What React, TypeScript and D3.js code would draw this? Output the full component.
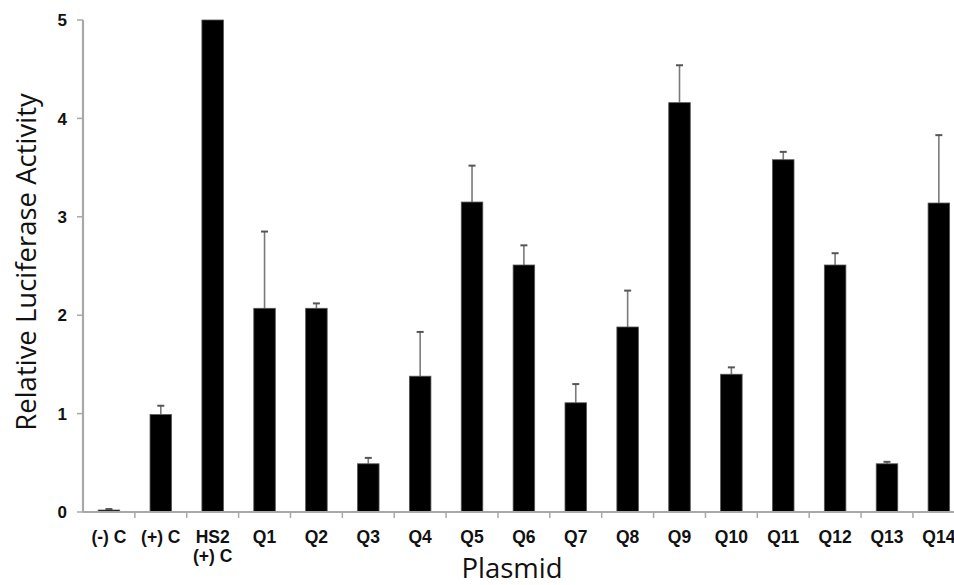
import React from "react";
import * as d3 from "d3";

const categories = ["(-) C", "(+) C", "HS2\n(+) C", "Q1", "Q2", "Q3", "Q4", "Q5", "Q6", "Q7", "Q8", "Q9", "Q10", "Q11", "Q12", "Q13", "Q14"];
const means = [0.02, 0.99, 5.0, 2.07, 2.07, 0.49, 1.38, 3.15, 2.51, 1.11, 1.88, 4.16, 1.40, 3.58, 2.51, 0.49, 3.14];
const errTops = [0.03, 1.08, 5.0, 2.85, 2.12, 0.55, 1.83, 3.52, 2.71, 1.30, 2.25, 4.54, 1.47, 3.66, 2.63, 0.51, 3.83];
const yTicks = [0, 1, 2, 3, 4, 5];

const W = 954;
const H = 585;
const left = 83;
const band = 51.87;
const y0 = 512;
const yTop = 20;

export default function App() {
  const x = d3.scaleBand<string>().domain(categories).range([left, left + band * categories.length]).padding(0);
  const y = d3.scaleLinear().domain([0, 5]).range([y0, yTop]);
  const bw = x.bandwidth() * 0.415;
  const axisColor = "#a8a8a8";
  const tickFont = "'Liberation Sans', Arial, sans-serif";
  const titleFont = "'Open Sans', 'Noto Sans', sans-serif";

  return (
    <svg width={W} height={H} style={{ position: "absolute", left: 0, top: 0, background: "#fff" }}>
      <rect x={0} y={0} width={W} height={H} fill="#fff" />
      {/* bars */}
      {categories.map((c, i) => {
        const cx = (x(c) as number) + x.bandwidth() / 2;
        const top = y(means[i]);
        const et = y(errTops[i]);
        return (
          <g key={c}>
            {errTops[i] > means[i] + 0.005 && (
              <g>
                <line x1={cx} x2={cx} y1={top} y2={et} stroke="#7a7a7a" strokeWidth={1.6} />
                <line x1={cx - 3.5} x2={cx + 3.5} y1={et} y2={et} stroke="#555" strokeWidth={2} />
              </g>
            )}
            <rect x={cx - bw / 2} y={top} width={bw} height={y0 - top} fill="#000" stroke="#555" strokeWidth={0.8} />
          </g>
        );
      })}
      {/* y axis */}
      <line x1={left} x2={left} y1={yTop} y2={y0} stroke={axisColor} strokeWidth={2.2} />
      {yTicks.map((t) => (
        <g key={t}>
          <line x1={left - 6} x2={left} y1={y(t)} y2={y(t)} stroke={axisColor} strokeWidth={1.5} />
          <text x={67} y={y(t)} dy="0.36em" textAnchor="end" fontFamily={tickFont} fontWeight="bold" fontSize={17} fill="#111">
            {t}
          </text>
        </g>
      ))}
      {/* x axis */}
      <line x1={left} x2={W} y1={y0} y2={y0} stroke={axisColor} strokeWidth={2.2} />
      {categories.map((c, i) => (
        <line key={"t" + i} x1={(x(c) as number) + x.bandwidth()} x2={(x(c) as number) + x.bandwidth()} y1={y0} y2={y0 + 6} stroke={axisColor} strokeWidth={1.5} />
      ))}
      {categories.map((c) => {
        const cx = (x(c) as number) + x.bandwidth() / 2;
        const lines = c.split("\n");
        return (
          <text key={"l" + c} x={cx} y={543} textAnchor="middle" fontFamily={tickFont} fontWeight="bold" fontSize={17.5} fill="#111">
            {lines.map((ln, k) => (
              <tspan key={k} x={cx} dy={k === 0 ? 0 : 19}>
                {ln}
              </tspan>
            ))}
          </text>
        );
      })}
      {/* titles */}
      <text x={512} y={578} textAnchor="middle" fontFamily={titleFont} fontSize={27.5} fill="#111">
        Plasmid
      </text>
      <text transform={`translate(36, 262) rotate(-90)`} textAnchor="middle" fontFamily={titleFont} fontSize={27.5} fill="#111">
        Relative Luciferase Activity
      </text>
    </svg>
  );
}
